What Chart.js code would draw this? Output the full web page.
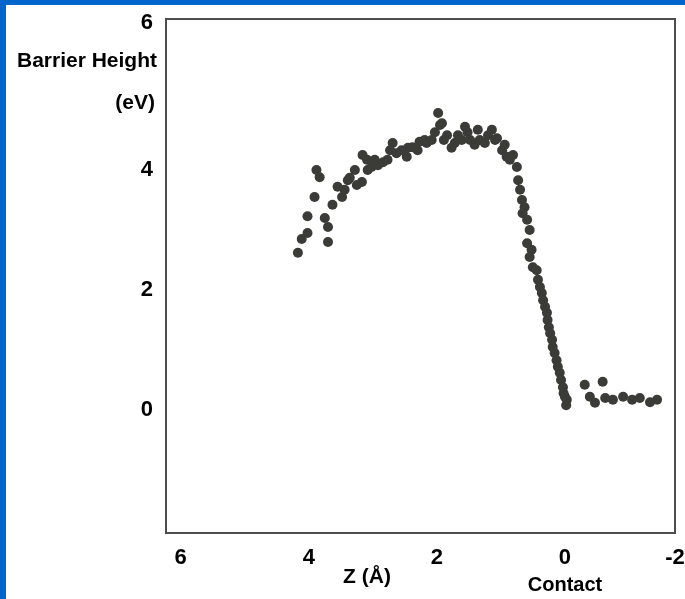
<!DOCTYPE html>
<html lang="en">
<head>
    <meta charset="UTF-8">
    <meta name="viewport" content="width=device-width, initial-scale=1.0">
    <script src="https://cdn.jsdelivr.net/npm/chart.js@4/dist/chart.umd.min.js"></script>
    <title>Barrier Height</title>
    <style>
        body { margin: 0; background: #ffffff; }
        canvas { display: block; }
    </style>
</head>
<body>
    <canvas id="grafico1" width="685" height="599"></canvas>
<script>
    // distanza punta-campione Z (Å)
    var zDist = [4.17, 4.11, 4.02, 4.02, 3.91, 3.88, 3.83, 3.75, 3.70, 3.70, 3.63, 3.55, 3.48, 3.39, 3.36,
        3.25, 3.17, 3.16, 3.09, 3.02, 2.92, 2.84, 2.77, 2.69, 2.63, 2.55, 2.47, 2.38, 2.27, 2.16,
        2.08, 2.03, 1.98, 1.92, 1.84, 1.77, 1.72, 1.67, 1.56, 1.48, 1.41, 1.33, 1.25, 1.14, 1.06,
        0.98, 0.91, 0.81, 0.75, 0.73, 0.70, 0.67, 0.63, 0.66, 0.59, 0.55, 0.59, 0.52, 0.55, 0.50,
        0.44, 0.42, 0.39, 0.36, 0.34, 0.31, 0.28, 0.27, 0.25, 0.23, 0.20, 0.19, 0.16, 0.13, 0.11,
        0.08, 0.06, 0.03, 0.02, 0.00, -0.02, -0.03, -0.31, -0.39, -0.47, -0.59, -0.63, -0.75, -0.91,
        -1.05, -1.17, -1.33, -1.44,
        3.44, 3.28, 3.08, 2.97, 2.73, 2.45, 2.30, 2.19, 1.95, 1.89, 1.61, 1.52, 1.36, 1.20, 1.09,
        0.94, 0.86];
    // altezza di barriera (eV)
    var barrier = [2.62, 2.85, 2.95, 3.23, 3.55, 4.00, 3.88, 3.20, 3.05, 2.80, 3.42, 3.72, 3.55, 3.83, 3.87,
        3.75, 3.80, 4.25, 4.17, 4.05, 4.08, 4.13, 4.17, 4.45, 4.28, 4.33, 4.22, 4.38, 4.47, 4.45,
        4.50, 4.63, 4.95, 4.78, 4.58, 4.37, 4.45, 4.58, 4.72, 4.50, 4.42, 4.50, 4.45, 4.67, 4.53,
        4.33, 4.22, 4.25, 4.05, 3.83, 3.67, 3.50, 3.38, 3.28, 3.17, 3.00, 2.78, 2.67, 2.55, 2.38,
        2.33, 2.17, 2.05, 1.95, 1.83, 1.72, 1.62, 1.50, 1.38, 1.28, 1.17, 1.05, 0.95, 0.83, 0.72,
        0.62, 0.50, 0.38, 0.28, 0.22, 0.08, 0.17, 0.42, 0.22, 0.12, 0.47, 0.20, 0.17, 0.22,
        0.17, 0.20, 0.13, 0.17,
        3.67, 4.00, 4.00, 4.17, 4.33, 4.37, 4.33, 4.50, 4.75, 4.50, 4.50, 4.63, 4.67, 4.58, 4.50,
        4.42, 4.17];

    // etichette degli assi
    var xTickValues = [6, 4, 2, 0, -1.72];
    var xTickLabels = ['6', '4', '2', '0', '-2'];
    var yTickValues = [0, 2, 4, 6.45];
    var yTickLabels = ['0', '2', '4', '6'];

    var punti = zDist.map(function(z, i) {
        return { x: z, y: barrier[i] };
    });

    var fontBold = { family: "'Liberation Sans', Arial, sans-serif", size: 22, weight: 'bold' };

    // cornice blu, riquadro del grafico e titoli degli assi
    var decorazioni = {
        id: 'decorazioni',
        beforeDraw: function(chart) {
            var ctx = chart.ctx;
            ctx.save();
            ctx.fillStyle = '#0066cc';
            ctx.fillRect(0, 0, chart.width, 5);
            ctx.fillRect(0, 0, 6, chart.height);
            ctx.restore();
        },
        afterDraw: function(chart) {
            var ctx = chart.ctx;
            var a = chart.chartArea;
            ctx.save();
            ctx.strokeStyle = '#4d4d4d';
            ctx.lineWidth = 2;
            ctx.strokeRect(a.left, a.top, a.right - a.left, a.bottom - a.top);

            ctx.fillStyle = '#000000';
            ctx.textBaseline = 'middle';
            ctx.font = "bold 21px 'Liberation Sans', Arial, sans-serif";
            ctx.textAlign = 'right';
            ctx.fillText('Barrier Height', 157, 61);
            ctx.fillText('(eV)', 155, 103);
            ctx.textAlign = 'center';
            ctx.fillText('Z (Å)', 367, 577);
            ctx.font = "bold 20px 'Liberation Sans', Arial, sans-serif";
            ctx.fillText('Contact', 565, 585);
            ctx.restore();
        }
    };

    var config = {
        type: 'scatter',
        data: {
            datasets: [{
                data: punti,
                backgroundColor: '#3b3b37',
                borderWidth: 0,
                pointRadius: 5,
                pointHoverRadius: 5
            }]
        },
        options: {
            responsive: false,
            animation: false,
            layout: { padding: { top: 19, right: 10, left: 0, bottom: 0 } },
            plugins: {
                legend: { display: false },
                tooltip: { enabled: false }
            },
            scales: {
                x: {
                    type: 'linear',
                    reverse: true,
                    min: -1.72,
                    max: 6.23,
                    grid: { display: false, drawTicks: false },
                    border: { display: false },
                    afterBuildTicks: function(scale) {
                        scale.ticks = xTickValues.map(function(v) { return { value: v }; });
                    },
                    afterFit: function(scale) {
                        scale.height = 599 - 533;
                        scale.paddingLeft = 0;
                        scale.paddingRight = 0;
                    },
                    ticks: {
                        autoSkip: false,
                        maxRotation: 0,
                        padding: 12,
                        color: '#000000',
                        font: fontBold,
                        callback: function(value) {
                            return xTickLabels[xTickValues.indexOf(value)];
                        }
                    }
                },
                y: {
                    type: 'linear',
                    min: -2.05,
                    max: 6.517,
                    grid: { display: false, drawTicks: false },
                    border: { display: false },
                    afterBuildTicks: function(scale) {
                        scale.ticks = yTickValues.map(function(v) { return { value: v }; });
                    },
                    afterFit: function(scale) {
                        scale.width = 166;
                        scale.paddingTop = 0;
                        scale.paddingBottom = 0;
                    },
                    ticks: {
                        autoSkip: false,
                        padding: 13,
                        color: '#000000',
                        font: fontBold,
                        callback: function(value) {
                            return yTickLabels[yTickValues.indexOf(value)];
                        }
                    }
                }
            }
        },
        plugins: [decorazioni]
    };

    var myChart = new Chart('grafico1', config);
</script>
</body>
</html>
